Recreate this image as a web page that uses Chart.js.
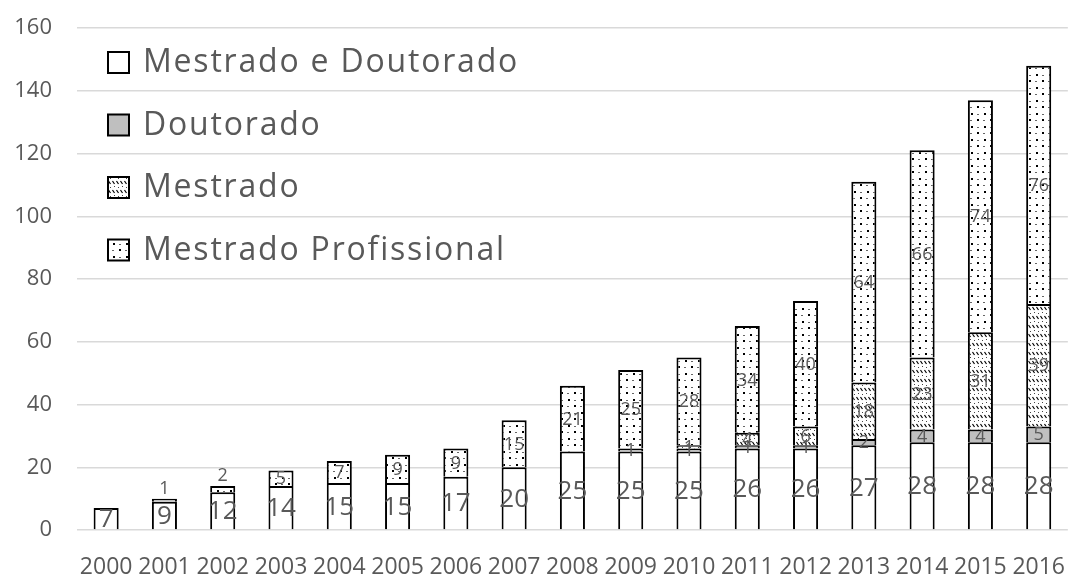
<!DOCTYPE html>
<html>
<head>
<meta charset="utf-8">
<script src="https://cdn.jsdelivr.net/npm/chart.js@4/dist/chart.umd.min.js"></script>
<style>
  html, body { margin: 0; padding: 0; background: #fff; }
  #wrap { width: 1081px; height: 576px; }
</style>
</head>
<body>
<div id="wrap"><canvas id="chart"></canvas></div>
<script>
// --- data ---------------------------------------------
const years = ['2000', '2001', '2002', '2003', '2004', '2005', '2006', '2007', '2008',
  '2009', '2010', '2011', '2012', '2013', '2014', '2015', '2016'];
const mestradoDoutorado = [7, 9, 12, 14, 15, 15, 17, 20, 25, 25, 25, 26, 26, 27, 28, 28, 28];
const doutorado = [0, 1, 0, 0, 0, 0, 0, 0, 0, 1, 1, 1, 1, 2, 4, 4, 5];
const mestrado = [0, 0, 0, 0, 0, 0, 0, 0, 0, 0, 1, 4, 6, 18, 23, 31, 39];
const profissional = [0, 0, 2, 5, 7, 9, 9, 15, 21, 25, 28, 34, 40, 64, 66, 74, 76];
const yTicks = [0, 20, 40, 60, 80, 100, 120, 140, 160];

const TEXT = '#595959';
const FONT = '"Open Sans", sans-serif';

// - fill patterns -------------------------------------
function makeTile(w, h, draw) {
  const c = document.createElement('canvas');
  c.width = w; c.height = h;
  const g = c.getContext('2d');
  g.fillStyle = '#fff';
  g.fillRect(0, 0, w, h);
  draw(g);
  return document.createElement('canvas').getContext('2d').createPattern(c, 'repeat');
}

// sparse dots (Mestrado Profissional)
const dotsPattern = makeTile(13, 13, (g) => {
  g.fillStyle = '#000';
  g.fillRect(2, 2, 2, 2);
  g.fillRect(9, 9, 2, 2);
  g.fillStyle = '#666';
  g.fillRect(8, 3, 2, 1);
  g.fillRect(2, 10, 2, 1);
});

// short backslash strokes (Mestrado)
const hatchPattern = makeTile(8, 9, (g) => {
  g.strokeStyle = '#000';
  g.lineWidth = 1.2;
  g.beginPath();
  g.moveTo(0.5, 1); g.lineTo(2.5, 4);
  g.moveTo(4.5, 1); g.lineTo(6.5, 4);
  g.stroke();
  g.fillStyle = '#444';
  g.fillRect(2, 6, 1, 1);
  g.fillRect(6, 7, 1, 1);
});

const series = [
  { label: 'Mestrado e Doutorado', data: mestradoDoutorado, fill: '#ffffff', big: true },
  { label: 'Doutorado', data: doutorado, fill: '#bfbfbf' },
  { label: 'Mestrado', data: mestrado, fill: hatchPattern },
  { label: 'Mestrado Profissional', data: profissional, fill: dotsPattern },
];

// segment value labels (tiny top segments get their label just above the bar)
const segmentLabels = {
  id: 'segmentLabels',
  afterDatasetsDraw(chart) {
    const { ctx } = chart;
    const dsets = chart.data.datasets;
    ctx.save();
    ctx.textAlign = 'center';
    ctx.textBaseline = 'middle';
    ctx.fillStyle = TEXT;
    dsets.forEach((ds, di) => {
      const meta = chart.getDatasetMeta(di);
      ctx.font = (series[di].big ? '26px ' : '18px ') + FONT;
      meta.data.forEach((bar, i) => {
        const v = ds.data[i];
        if (!v) return;
        const isTop = dsets.slice(di + 1).every((d) => !d.data[i]);
        const h = Math.abs(bar.base - bar.y);
        let y = (bar.y + bar.base) / 2 + 1;
        if (isTop && h < 10) y = bar.y - 10;
        ctx.fillText(String(v), bar.x, y);
      });
    });
    ctx.restore();
  }
};

// legend drawn inside the plot, top-left
const innerLegend = {
  id: 'innerLegend',
  afterDraw(chart) {
    const { ctx, chartArea } = chart;
    ctx.save();
    ctx.font = '32px ' + FONT;
    ctx.textBaseline = 'middle';
    ctx.textAlign = 'left';
    if ('letterSpacing' in ctx) ctx.letterSpacing = '1.8px';
    series.forEach((s, i) => {
      const cy = chartArea.top + 34 + i * 62.5;
      const bx = chartArea.left + 31;
      ctx.fillStyle = s.fill;
      ctx.fillRect(bx, cy - 10, 21, 21);
      ctx.lineWidth = 2;
      ctx.strokeStyle = '#000';
      ctx.strokeRect(bx, cy - 10, 21, 21);
      ctx.fillStyle = TEXT;
      ctx.fillText(s.label, bx + 35, cy + 1);
    });
    ctx.restore();
  }
};

Chart.defaults.font.family = FONT;
Chart.defaults.color = TEXT;

new Chart(document.getElementById('chart'), {
  type: 'bar',
  data: {
    labels: years,
    datasets: series.map((s) => ({
      label: s.label,
      data: s.data,
      backgroundColor: s.fill,
      borderColor: '#000',
      borderWidth: { top: 2, bottom: 0, left: 2, right: 2 },
      borderSkipped: false,
      categoryPercentage: 1,
      barPercentage: 0.43,
    })),
  },
  options: {
    responsive: true,
    maintainAspectRatio: false,
    animation: false,
    layout: { padding: { top: 28, right: 0, left: 0, bottom: 0 } },
    scales: {
      x: {
        stacked: true,
        grid: { display: false },
        border: { display: false },
        ticks: { font: { size: 23 }, color: TEXT, padding: 16, maxRotation: 0, autoSkip: false },
        afterFit: (scale) => { scale.height = 46; },
      },
      y: {
        stacked: true,
        min: 0,
        max: 160,
        afterBuildTicks: (scale) => { scale.ticks = yTicks.map((v) => ({ value: v })); },
        // invisible tick marks keep the labels 25px clear of the grid
        grid: { color: '#d9d9d9', lineWidth: 1.5, drawTicks: true, tickLength: 25, tickColor: 'rgba(0,0,0,0)' },
        border: { display: false },
        ticks: { font: { size: 22 }, color: TEXT, padding: 0 },
        afterFit: (scale) => { scale.width = 77; },
      },
    },
    plugins: {
      legend: { display: false },
      tooltip: { enabled: false },
    },
  },
  plugins: [segmentLabels, innerLegend],
});
</script>
</body>
</html>
